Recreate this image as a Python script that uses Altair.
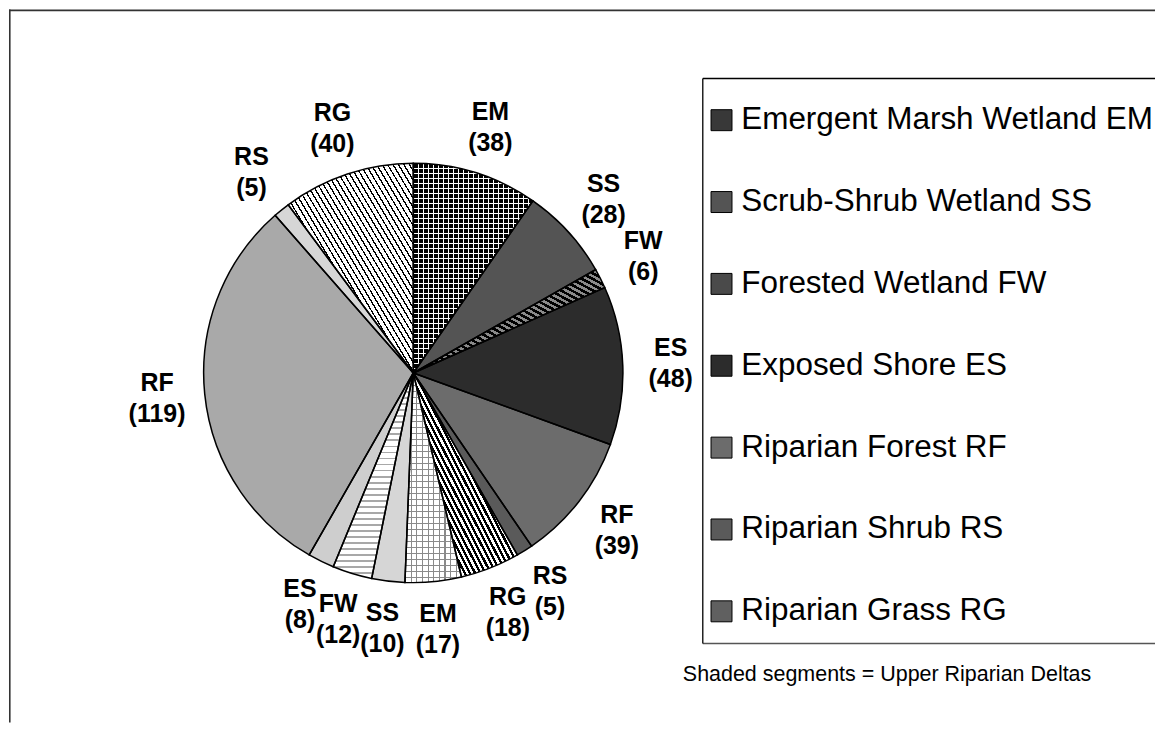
import altair as alt
import pandas as pd

# ---- data ----
codes = ["EM", "SS", "FW", "ES", "RF", "RS", "RG"]
names = [
    "Emergent Marsh Wetland EM",
    "Scrub-Shrub Wetland SS",
    "Forested Wetland FW",
    "Exposed Shore ES",
    "Riparian Forest RF",
    "Riparian Shrub RS",
    "Riparian Grass RG",
]
upper_delta_values = [38, 28, 6, 48, 39, 5, 18]   # shaded segments, clockwise from 12 o'clock
other_values = [17, 10, 12, 8, 119, 5, 40]        # unshaded segments, continuing clockwise
note_text = "Shaded segments = Upper Riparian Deltas"

# ---- styles ----
shaded_colors = ["#383838", "#545454", "#4a4a4a", "#2c2c2c", "#6c6c6c", "#5a5a5a", "#606060"]
plain_colors = ["#e0e0e0", "#d6d6d6", "#e2e2e2", "#cecece", "#a9a9a9", "#d6d6d6", "#c2c2c2"]
CLEAR = "rgba(255,255,255,0)"


def stripes(n, ink, paper, frac, x1, y1, x2, y2):
    """Repeating two-colour stripe fill built as a linear gradient."""
    stops = []
    for i in range(n):
        a = i / n
        b = (i + frac) / n
        c = (i + 1) / n
        stops += [
            {"offset": a, "color": ink},
            {"offset": b, "color": ink},
            {"offset": b, "color": paper},
            {"offset": c, "color": paper},
        ]
    return {"gradient": "linear", "x1": x1, "y1": y1, "x2": x2, "y2": y2, "stops": stops}


# base hatching (replaces the flat grey of a slice)
hatch = {
    "U-EM": stripes(24, "#ffffff", "#000000", 0.22, 0, 0, 1, 0),
    "O-EM": stripes(10, "#8a8a8a", "#ffffff", 0.2, 0, 0, 1, 0),
    "O-RG": stripes(46, "#000000", "#ffffff", 0.28, 0, 1, 1, 0),
    "U-RG": stripes(40, "#000000", "#ffffff", 0.5, 0, 1, 1, 0),
    "U-FW": stripes(36, "#000000", "#8a8a8a", 0.5, 0, 1, 1, 0),
    "O-FW": stripes(34, "#a8a8a8", "#ffffff", 0.3, 0, 0, 0, 1),
}
# second hatching drawn on top (gives the grid of the EM slices)
overlay = {
    "U-EM": stripes(42, "#ffffff", CLEAR, 0.22, 0, 0, 0, 1),
    "O-EM": stripes(35, "#8a8a8a", CLEAR, 0.2, 0, 0, 0, 1),
}

rows = []
for i, (c, v) in enumerate(zip(codes, upper_delta_values)):
    rows.append({"order": i, "key": "U-" + c, "value": v, "label": f"{c}\n({v})"})
for i, (c, v) in enumerate(zip(codes, other_values)):
    rows.append({"order": 7 + i, "key": "O-" + c, "value": v, "label": f"{c}\n({v})"})
df = pd.DataFrame(rows)
keys = list(df["key"])

W, H = 1148, 714
CX, CY, R = 405, 364, 210

base = alt.Chart(df).encode(
    theta=alt.Theta("value:Q", stack=True),
    order=alt.Order("order:Q"),
)

pie = base.mark_arc(radius=R, strokeWidth=0).encode(
    x=alt.value(CX),
    y=alt.value(CY),
    color=alt.Color(
        "key:N",
        scale=alt.Scale(domain=keys, range=shaded_colors + plain_colors),
        legend=None,
        condition=[{"test": f"datum.key === '{k}'", "value": g} for k, g in hatch.items()],
    ),
)

pie_top = base.mark_arc(radius=R, stroke="black", strokeWidth=1.5).encode(
    x=alt.value(CX),
    y=alt.value(CY),
    color=alt.value(
        CLEAR,
        condition=[{"test": f"datum.key === '{k}'", "value": g} for k, g in overlay.items()],
    ),
)

labels = base.mark_text(
    radius=258, font="Liberation Sans", fontSize=25, fontWeight="bold",
    lineBreak="\n", lineHeight=31, dy=-15.5, align="center", baseline="middle", color="black",
).encode(x=alt.value(CX), y=alt.value(CY), text="label:N")

one = pd.DataFrame({"k": [0]})


def hline(x1, x2, y, color="black", sw=1.3):
    return alt.Chart(one).mark_rule(color=color, strokeWidth=sw).encode(
        x=alt.value(x1), x2=alt.value(x2), y=alt.value(y))


def vline(x, y1, y2, color="black", sw=1.3):
    return alt.Chart(one).mark_rule(color=color, strokeWidth=sw).encode(
        x=alt.value(x), y=alt.value(y1), y2=alt.value(y2))


# outer chart frame (only top and left edges are inside the window)
frame = [hline(0, W, 0.8, "#333333", 1.6), vline(0.8, 0, H, "#333333", 1.6)]
# legend box (right edge lies outside the window)
box = [hline(695, W, 69), hline(695, W, 635, "#555555"), vline(695, 69, 635)]

legend_layer = alt.Chart(pd.DataFrame({"name": names})).mark_square(opacity=0).encode(
    x=alt.value(CX),
    y=alt.value(CY),
    fill=alt.Fill(
        "name:N",
        scale=alt.Scale(domain=names, range=shaded_colors),
        legend=alt.Legend(
            title=None, orient="none", legendX=698, legendY=95, padding=0,
            symbolType="square", symbolSize=441, symbolOpacity=1,
            symbolStrokeColor="black", symbolStrokeWidth=1,
            labelFont="Liberation Sans", labelFontSize=31.5, labelColor="black",
            labelOffset=4, rowPadding=49, labelLimit=0,
        ),
    ),
)

note = alt.Chart(one).mark_text(
    align="left", baseline="middle", font="Liberation Sans", fontSize=21.5, color="black"
).encode(x=alt.value(675), y=alt.value(667), text=alt.value(note_text))

chart = alt.layer(*frame, *box, pie, pie_top, labels, legend_layer, note).properties(
    width=W, height=H, padding=0, background="white"
).configure_view(stroke=None)

chart.save("out.html", embed_options={"renderer": "svg", "actions": False})
